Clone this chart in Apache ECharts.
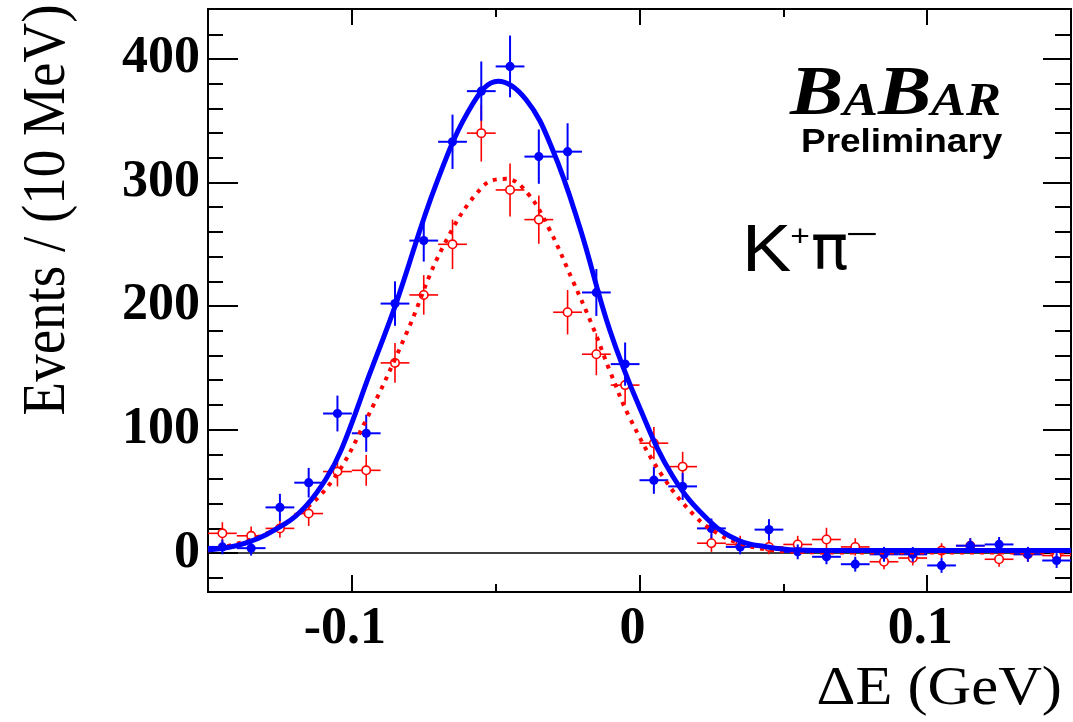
<!DOCTYPE html>
<html>
<head>
<meta charset="utf-8">
<script src="https://cdn.jsdelivr.net/npm/echarts@6/dist/echarts.min.js"></script>
<style>
html,body{margin:0;padding:0;background:#fff;}
#chart{width:1073px;height:722px;}
</style>
</head>
<body>
<div id="chart"></div>
<script>
// ---- data ----
const binHalfWidth = 0.005;
const xCenters = [-0.145,-0.135,-0.125,-0.115,-0.105,-0.095,-0.085,-0.075,-0.065,-0.055,-0.045,-0.035,-0.025,-0.015,-0.005,
                  0.005,0.015,0.025,0.035,0.045,0.055,0.065,0.075,0.085,0.095,0.105,0.115,0.125,0.135,0.145];
const blueY   = [5,4,37,57,113,97,202,253,333,374,394,321,325,211,153,59,54,20,5,19,1,-3,-9,-1,-1,-10,6,7,-1,-6];
const blueErr = [6,6,11,12,14.5,15,18,17,22,24,25,22,23,19,17.5,11,11,8,6,8.5,6,6,6,6,6,6,6,6,6,6];
const redY    = [16,14,20,32,66,67,154,209,250,340,294,270,195,161,136,89,70,8,7,5,7,11,5,-7,-4,2,6,-5,-1,-2];
const redErr  = [9,7.5,7.5,10,12,12.5,16,16,20,23,21.5,19.5,18,17,15.5,13,12,7,7,6,7,9.5,7,6,6,6,6,6,6,6];

const blueFitX = [-0.15,-0.137,-0.123,-0.116,-0.109,-0.1036,-0.0938,-0.0848,-0.0705,-0.0579,-0.0492,-0.0394,-0.0301,-0.0208,-0.0104,0,0.0116,0.0243,0.0347,0.0444,0.0545,0.07,0.15];
const blueFitY = [2.5,8,24,38,60,84,145,201,300,364,382,367,326,264,181,118,62,26,10,5,2.5,2,2];
const redFitX = [-0.15,-0.1326,-0.120,-0.107,-0.095,-0.081,-0.0683,-0.0544,-0.0463,-0.0388,-0.0313,-0.0233,-0.0162,-0.0104,-0.0035,0.0081,0.0197,0.0278,0.0347,0.044,0.055,0.07,0.15];
const redFitY = [2,13,29,58,108,178,248,297,303,291,262,221,183,148,110,62,29,15,8,3,1,0.5,0.5];

const xMajorTicks = [-0.1, 0, 0.1];
const xTickLabels = ['-0.1', '0', '0.1'];
const xMinorTicks = [-0.05, 0.05];
const yMajorTicks = [0, 100, 200, 300, 400];
const yTickLabels = ['0', '100', '200', '300', '400'];
const yMinorTicks = [-20,20,40,60,80,120,140,160,180,220,240,260,280,320,340,360,380,420];

const xTitle = 'ΔE (GeV)';
const yTitle = 'Events / (10 MeV)';

// ---- build ----
const SERIF = '"Liberation Serif", "Times New Roman", serif';
const SANS = '"Liberation Sans", Arial, sans-serif';
const X_MIN = -0.15, X_MAX = 0.15, Y_MIN = -31.5, Y_MAX = 440.5;

function pts(xs, ys, es) { return xs.map((x, i) => es ? [x, ys[i], es[i]] : [x, ys[i]]); }

function tickAxis(kind, position, ticks, len, labels) {
  const ax = {
    type: 'value', position: position,
    min: kind === 'x' ? X_MIN : Y_MIN, max: kind === 'x' ? X_MAX : Y_MAX,
    axisLine: {show: false, onZero: false},
    splitLine: {show: false},
    axisTick: {show: true, inside: true, length: len, customValues: ticks,
               lineStyle: {color: '#000', width: 2}},
    axisLabel: {show: false}
  };
  if (labels) {
    const map = {};
    ticks.forEach((t, i) => map[String(t)] = labels[i]);
    ax.axisLabel = {
      show: true, customValues: ticks,
      formatter: v => '{a|' + (map[String(v)] !== undefined ? map[String(v)] : v) + '}',
      color: '#000',
      margin: kind === 'x' ? 12 : 8,
      rich: {a: {fontFamily: SERIF, fontWeight: 'bold', fontSize: 52, color: '#000',
                 padding: kind === 'x' ? [0, 14, 0, 0] : [0, 0, 0, 0]}}
    };
  }
  return ax;
}

function errRender(color, filled, lw, r) {
  return function (params, api) {
    const x = api.value(0), y = api.value(1), e = api.value(2);
    const c = api.coord([x, y]);
    const l = api.coord([x - binHalfWidth, y]);
    const rr = api.coord([x + binHalfWidth, y]);
    const t = api.coord([x, y + e]);
    const b = api.coord([x, y - e]);
    return {
      type: 'group',
      children: [
        {type: 'line', shape: {x1: l[0], y1: c[1], x2: rr[0], y2: c[1]}, style: {stroke: color, lineWidth: lw}},
        {type: 'line', shape: {x1: c[0], y1: t[1], x2: c[0], y2: b[1]}, style: {stroke: color, lineWidth: lw}},
        {type: 'circle', shape: {cx: c[0], cy: c[1], r: r},
         style: {fill: filled ? color : '#fff', stroke: color, lineWidth: filled ? 0 : 1.6}}
      ]
    };
  };
}

function txt(o) {
  return {
    type: 'text', x: o.x, y: o.y, rotation: o.rot || 0,
    scaleX: o.sx || 1, scaleY: o.sy || 1, z: 100,
    style: {
      text: o.text, fill: '#000',
      fontFamily: o.family, fontSize: o.size, fontWeight: o.weight || 'normal', fontStyle: o.style || 'normal',
      align: o.align || 'left', verticalAlign: 'middle',
      textAlign: o.align || 'left', textVerticalAlign: 'middle'
    }
  };
}

const chart = echarts.init(document.getElementById('chart'), null, {renderer: 'canvas'});
chart.setOption({
  backgroundColor: '#fff',
  animation: false,
  grid: {left: 208, right: 2, top: 9, bottom: 130, show: true, borderColor: '#000', borderWidth: 2, backgroundColor: 'transparent'},
  xAxis: [
    tickAxis('x', 'bottom', xMajorTicks, 17, xTickLabels),
    tickAxis('x', 'bottom', xMinorTicks, 8),
    tickAxis('x', 'top', xMajorTicks, 16),
    tickAxis('x', 'top', xMinorTicks, 8)
  ],
  yAxis: [
    tickAxis('y', 'left', yMajorTicks, 30, yTickLabels),
    tickAxis('y', 'left', yMinorTicks, 15),
    tickAxis('y', 'right', yMajorTicks, 28),
    tickAxis('y', 'right', yMinorTicks, 16)
  ],
  graphic: [
    txt({text: yTitle, x: 48, y: 210, rot: Math.PI / 2, family: SERIF, size: 55, align: 'center', sy: 1.1}),
    txt({text: xTitle, x: 1062, y: 690, family: SERIF, size: 55, align: 'right', sx: 1.1}),
    // BABAR logo
    txt({text: 'B', x: 790, y: 96, family: SERIF, size: 70, weight: 'bold', style: 'italic', sx: 1.14}),
    txt({text: 'A', x: 843, y: 103, family: SERIF, size: 46, weight: 'bold', style: 'italic', sx: 1.14}),
    txt({text: 'B', x: 878, y: 96, family: SERIF, size: 70, weight: 'bold', style: 'italic', sx: 1.14}),
    txt({text: 'A', x: 931, y: 103, family: SERIF, size: 46, weight: 'bold', style: 'italic', sx: 1.14}),
    txt({text: 'R', x: 966, y: 103, family: SERIF, size: 46, weight: 'bold', style: 'italic', sx: 1.14}),
    txt({text: 'Preliminary', x: 801, y: 143, family: SANS, size: 33, weight: 'bold', sx: 1.12}),
    // K+ pi-
    txt({text: 'K', x: 742, y: 253, family: SANS, size: 66, sx: 1.12}),
    txt({text: '+', x: 800, y: 238, family: SANS, size: 30, align: 'center', sx: 1.12}),
    txt({text: 'π', x: 811, y: 253, family: '"DejaVu Sans", sans-serif', size: 62, sx: 1.0}),
    txt({text: '−', x: 862, y: 236, family: SANS, size: 30, align: 'center', sx: 1.9})
  ],
  series: [
    {
      type: 'line', data: [[X_MIN, 0], [X_MAX, 0]], showSymbol: false, silent: true,
      lineStyle: {color: '#000', width: 1.5}, z: 1
    },
    {
      type: 'custom', name: 'red data', data: pts(xCenters, redY, redErr), clip: true,
      renderItem: errRender('#ff0000', false, 1.6, 4.2), z: 3
    },
    {
      type: 'custom', name: 'blue data', data: pts(xCenters, blueY, blueErr), clip: true,
      renderItem: errRender('#0000ff', true, 2, 4.6), z: 4
    },
    {
      type: 'line', name: 'red fit', data: pts(redFitX, redFitY), showSymbol: false, silent: true,
      smooth: 0.4, clip: true,
      lineStyle: {color: '#ff0000', width: 4, type: [4, 6], cap: 'butt'}, z: 5
    },
    {
      type: 'line', name: 'blue fit', data: pts(blueFitX, blueFitY), showSymbol: false, silent: true,
      smooth: 0.4, clip: true,
      lineStyle: {color: '#0000ff', width: 5}, z: 6
    }
  ]
});
</script>
</body>
</html>
